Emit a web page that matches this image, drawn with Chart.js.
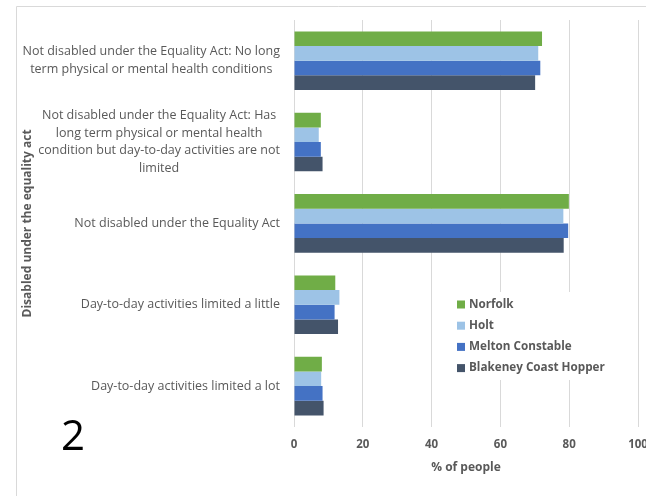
<!DOCTYPE html>
<html>
<head>
<meta charset="utf-8">
<script src="https://cdn.jsdelivr.net/npm/chart.js@4/dist/chart.umd.min.js"></script>
<style>
  body { margin: 0; overflow: hidden; background: #fff; }
  #wrap { position: absolute; left: 0; top: 0; width: 660px; height: 496px; }
</style>
</head>
<body>
<div id="wrap"><canvas id="grafico" width="660" height="496"></canvas></div>
<script>
const categorias = [
  ['Not disabled under the Equality Act: No long', 'term physical or mental health conditions'],
  ['Not disabled under the Equality Act: Has', 'long term physical or mental health', 'condition but day-to-day activities are not', 'limited'],
  ['Not disabled under the Equality Act'],
  ['Day-to-day activities limited a little'],
  ['Day-to-day activities limited a lot']
];
const norfolk = [72.1, 7.8, 79.9, 12.0, 8.1];
const holt = [71.0, 7.2, 78.3, 13.2, 7.9];
const melton = [71.6, 7.8, 79.7, 11.8, 8.3];
const blakeney = [70.1, 8.3, 78.4, 12.8, 8.6];
const xTicks = [0, 20, 40, 60, 80, 100];

const cinza = '#595959';
const fonte = '"Open Sans", sans-serif';

// rótulos das categorias, legenda, moldura e o "2"
const extras = {
  id: 'extras',
  beforeDraw(chart) {
    const ctx = chart.ctx;
    ctx.save();
    ctx.strokeStyle = '#d9d9d9';
    ctx.lineWidth = 1;
    ctx.beginPath();
    ctx.moveTo(16.5, 496);
    ctx.lineTo(16.5, 6.5);
    ctx.lineTo(660, 6.5);
    ctx.stroke();
    ctx.restore();
  },
  afterDraw(chart) {
    const ctx = chart.ctx;
    const y = chart.scales.y;
    ctx.save();
    ctx.font = '12.5px ' + fonte;
    ctx.fillStyle = cinza;
    ctx.textAlign = 'center';
    ctx.textBaseline = 'middle';
    const alturaLinha = 17.6;
    categorias.forEach((linhas, i) => {
      const largura = Math.max(...linhas.map(l => ctx.measureText(l).width));
      const cx = 280 - largura / 2;
      const cy = y.getPixelForTick(i);
      const y0 = cy - (linhas.length - 1) * alturaLinha / 2;
      linhas.forEach((l, j) => ctx.fillText(l, cx, y0 + j * alturaLinha));
    });

    // legenda
    ctx.fillStyle = '#fff';
    ctx.fillRect(447, 292, 168, 88);
    ctx.font = 'bold 11.7px ' + fonte;
    ctx.textAlign = 'left';
    chart.data.datasets.forEach((ds, i) => {
      const ly = 304.5 + i * 21.2;
      ctx.fillStyle = ds.backgroundColor;
      ctx.fillRect(457, ly - 4, 8, 8);
      ctx.fillStyle = cinza;
      ctx.fillText(ds.label, 469, ly);
    });

    ctx.fillStyle = '#000';
    ctx.font = '42px ' + fonte;
    ctx.textBaseline = 'alphabetic';
    ctx.fillText('2', 61, 450);
    ctx.restore();
  }
};

new Chart(document.getElementById('grafico'), {
  type: 'bar',
  data: {
    labels: categorias,
    datasets: [
      { label: 'Norfolk', data: norfolk, backgroundColor: '#70AD47' },
      { label: 'Holt', data: holt, backgroundColor: '#9DC3E6' },
      { label: 'Melton Constable', data: melton, backgroundColor: '#4472C4' },
      { label: 'Blakeney Coast Hopper', data: blakeney, backgroundColor: '#44546A' }
    ]
  },
  options: {
    indexAxis: 'y',
    responsive: false,
    animation: false,
    layout: { padding: { top: 20, right: 22, bottom: 19, left: 0 } },
    datasets: { bar: { categoryPercentage: 0.72, barPercentage: 1 } },
    plugins: { legend: { display: false }, tooltip: { enabled: false } },
    scales: {
      x: {
        min: 0,
        max: 100,
        afterBuildTicks: s => { s.ticks = xTicks.map(v => ({ value: v })); },
        grid: { color: '#d9d9d9', drawTicks: false },
        border: { display: false },
        ticks: { color: cinza, padding: 11, font: { family: fonte, size: 11.5, weight: 'bold' } },
        title: {
          display: true,
          text: '% of people',
          color: cinza,
          padding: { top: -2, bottom: 2 },
          font: { family: fonte, size: 12, weight: 'bold' }
        }
      },
      y: {
        grid: { display: false },
        border: { display: false },
        ticks: { display: false },
        afterFit: s => { s.width = 294; },
        title: {
          display: true,
          text: 'Disabled under the equality act',
          color: cinza,
          padding: { top: 20, bottom: 0 },
          font: { family: fonte, size: 12, weight: 'bold' }
        }
      }
    }
  },
  plugins: [extras]
});
</script>
</body>
</html>
